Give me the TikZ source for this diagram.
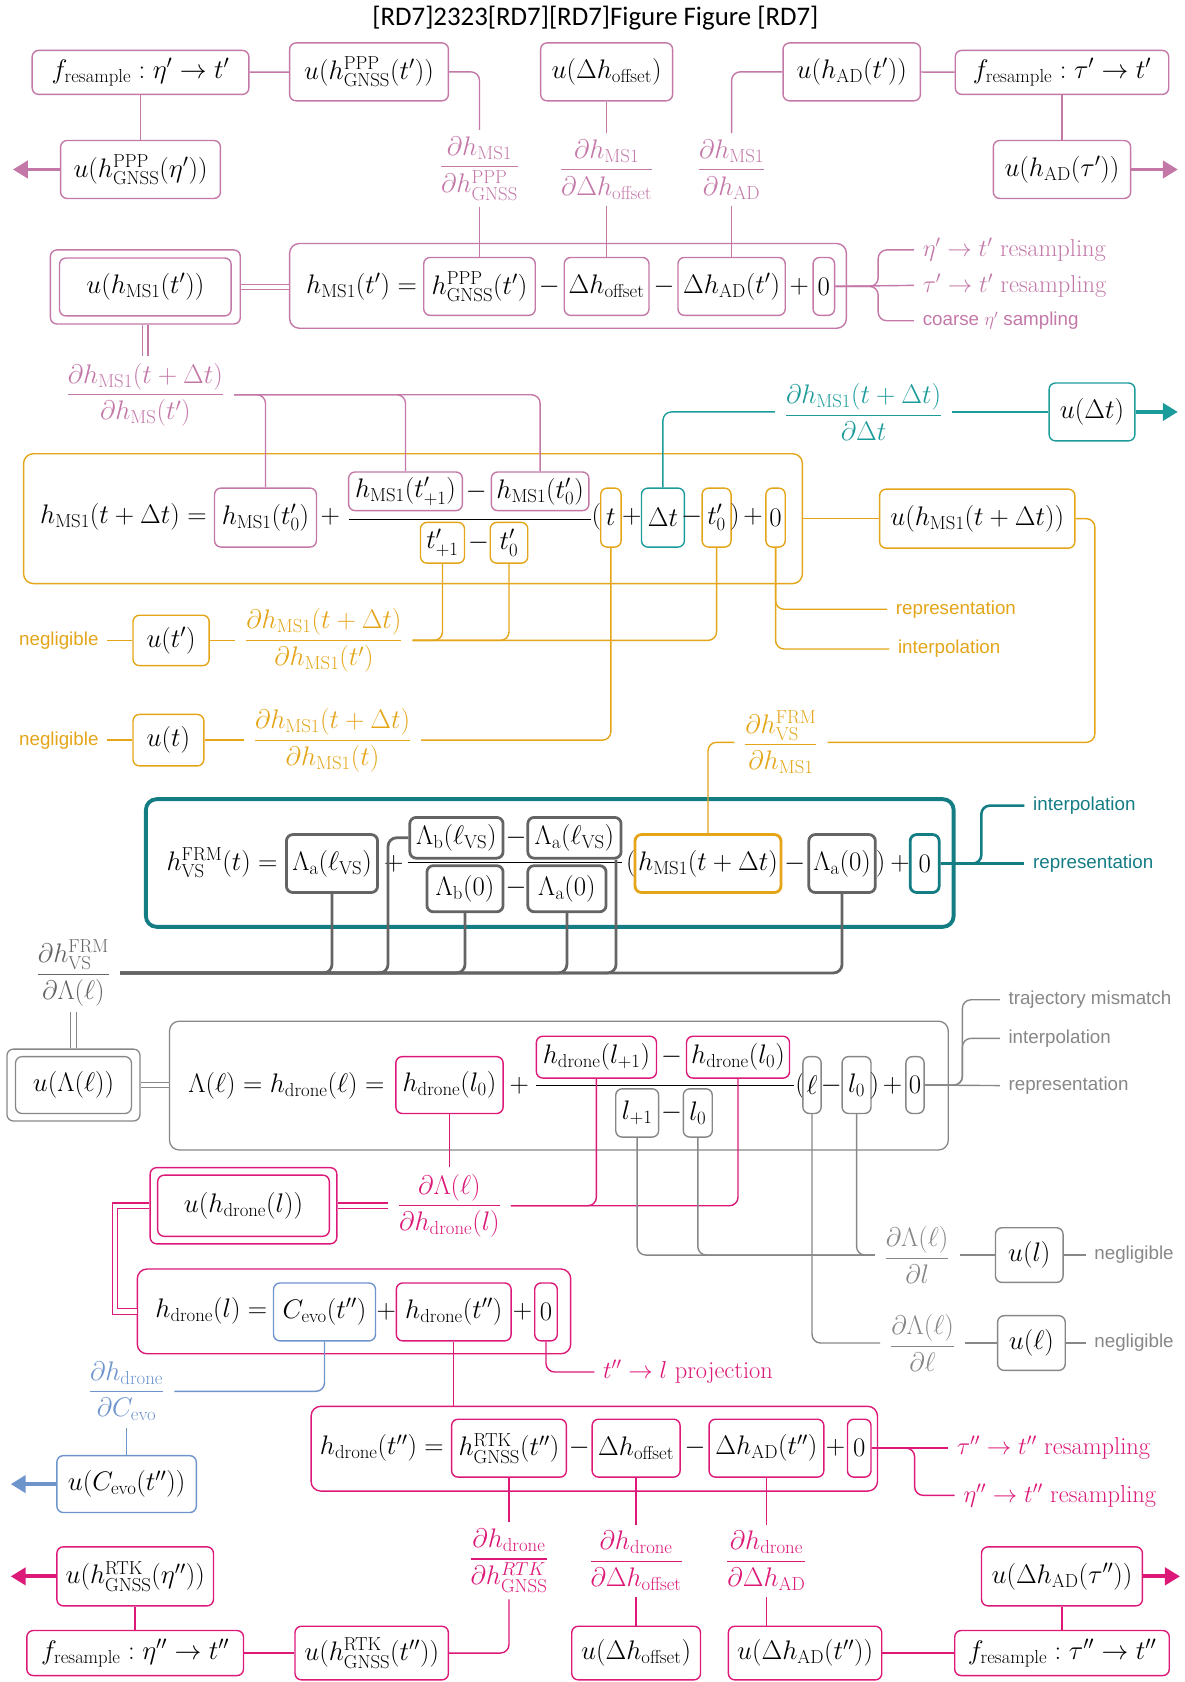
\RequirePackage{fix-cm}
\documentclass[tikz,border=0pt]{standalone}
\usepackage{amsmath}
\usepackage[no-math]{fontspec}
\usepackage{tikz}
\usetikzlibrary{arrows.meta}
\newfontfamily\notefont{Liberation Sans}
\newfontfamily\titlefont{Carlito}
\newcommand\mainsize{\fontsize{25}{30}\selectfont}
\newcommand\labsize{\fontsize{22.8}{27}\selectfont}
\newcommand\notesize{\fontsize{17.5}{21}\selectfont\notefont}
\definecolor{ms}{RGB}{195,120,168}
\definecolor{orng}{RGB}{228,165,25}
\definecolor{tl}{RGB}{20,125,132}
\definecolor{tq}{RGB}{28,155,155}
\definecolor{gy}{RGB}{100,100,100}
\definecolor{lg}{RGB}{135,135,135}
\definecolor{mg}{RGB}{220,25,120}
\definecolor{bl}{RGB}{110,148,204}
\begin{document}
\begin{tikzpicture}[x=1pt, y=-1pt,
  box/.style={draw, rounded corners=6pt, line width=1.3pt, inner sep=0pt, font=\mainsize},
  gbox/.style={box, draw=gy, line width=2.6pt},
  big/.style={draw, rounded corners=9pt, line width=1.3pt},
  op/.style={inner sep=0pt, font=\mainsize},
  frac/.style={inner xsep=9pt, inner ysep=6pt, font=\mainsize},
  lab/.style={anchor=west, inner xsep=8pt, inner ysep=0pt, font=\labsize},
  note/.style={anchor=west, inner xsep=8pt, inner ysep=0pt, font=\notesize},
  link/.style={line width=1.3pt, rounded corners=8pt},
  glink/.style={link, draw=gy, line width=2.6pt},
  dbl/.style={double, double distance=4pt, line width=1.1pt},
  outarrow/.style={line width=3.5pt, -{Triangle[length=14pt,width=16pt]}},
  sz/.style 2 args={minimum width=#1pt, minimum height=#2pt}]
\useasboundingbox (0,0) rectangle (1104,1568);
\node[font=\titlefont\fontsize{25}{30}\selectfont] (title) at (555,17) {[RD7]2323[RD7][RD7]Figure Figure [RD7]};

\node[box, draw=ms, sz={202}{41}] (f1) at (131,67.5) {$f_{\mathrm{resample}} : \eta' \rightarrow t'$};
\node[box, draw=ms, sz={148}{54}] (uPt) at (344,67) {$u(h^{\mathrm{PPP}}_{\mathrm{GNSS}}(t'))$};
\node[box, draw=ms, sz={123}{54}] (uoff) at (565.5,67) {$u(\Delta h_{\mathrm{offset}})$};
\node[box, draw=ms, sz={128}{54}] (uADt) at (794,67) {$u(h_{\mathrm{AD}}(t'))$};
\node[box, draw=ms, sz={199}{41}] (f2) at (990,67.5) {$f_{\mathrm{resample}} : \tau' \rightarrow t'$};
\node[box, draw=ms, sz={149}{54}] (uPeta) at (131,158) {$u(h^{\mathrm{PPP}}_{\mathrm{GNSS}}(\eta'))$};
\node[box, draw=ms, sz={128}{54}] (uADtau) at (990,158) {$u(h_{\mathrm{AD}}(\tau'))$};
\coordinate (eA) at (12,158);
\coordinate (eB) at (1098,158);
\node[frac, text=ms] (d1) at (447,157) {$\dfrac{\partial h_{\mathrm{MS1}}}{\partial h^{\mathrm{PPP}}_{\mathrm{GNSS}}}$};
\node[frac, text=ms] (d2) at (565.5,158) {$\dfrac{\partial h_{\mathrm{MS1}}}{\partial\Delta h_{\mathrm{offset}}}$};
\node[frac, text=ms] (d3) at (682,158) {$\dfrac{\partial h_{\mathrm{MS1}}}{\partial h_{\mathrm{AD}}}$};

\node[big, draw=ms, sz={519}{79}] (E1) at (529.5,266.5) {};
\node[op] (e1) at (337,267) {$h_{\mathrm{MS1}}(t') =$};
\node[box, draw=ms, sz={104}{54}] (hP) at (447,267) {$h^{\mathrm{PPP}}_{\mathrm{GNSS}}(t')$};
\node[op] (e1a) at (512,267) {$-$};
\node[box, draw=ms, sz={79}{54}] (hO) at (565.5,267) {$\Delta h_{\mathrm{offset}}$};
\node[op] (e1b) at (619,267) {$-$};
\node[box, draw=ms, sz={100}{54}] (hA) at (682,267) {$\Delta h_{\mathrm{AD}}(t')$};
\node[op] (e1c) at (745,267) {$+$};
\node[box, draw=ms, sz={20}{54}] (z1) at (768,267) {$0$};
\node[lab, text=ms] (r1) at (852,233) {$\eta' \rightarrow t'$ resampling};
\node[lab, text=ms] (r2) at (852,266) {$\tau' \rightarrow t'$ resampling};
\node[note, text=ms] (r3) at (852,299) {coarse $\eta'$ sampling};
\node[box, draw=ms, sz={177}{69}] (uMo) at (135.5,267.5) {};
\node[box, draw=ms, sz={160}{54}] (uM) at (135.5,267.5) {$u(h_{\mathrm{MS1}}(t'))$};

\draw[link, draw=ms] (f1) -- (uPt);
\draw[link, draw=ms] (f1) -- (uPeta);
\draw[outarrow, draw=ms] (uPeta) -- (eA);
\draw[link, draw=ms] (uADt) -- (f2);
\draw[link, draw=ms] (f2) -- (uADtau);
\draw[outarrow, draw=ms] (uADtau) -- (eB);
\draw[link, draw=ms] (uPt.east) -| (d1.north);
\draw[link, draw=ms] (d1) -- (hP);
\draw[link, draw=ms] (uoff) -- (d2);
\draw[link, draw=ms] (d2) -- (hO);
\draw[link, draw=ms] (uADt.west) -| (d3.north);
\draw[link, draw=ms] (d3) -- (hA);
\draw[dbl, draw=ms] (uMo.east) -- (uMo.east -| E1.west);
\draw[link, draw=ms] (z1.east) -- (r2.west);
\draw[link, draw=ms] (z1.east) -- ++(40,0) |- (r1.west);
\draw[link, draw=ms] (z1.east) -- ++(40,0) |- (r3.west);

\node[frac, text=ms] (d4) at (135.5,368) {$\dfrac{\partial h_{\mathrm{MS1}}(t+\Delta t)}{\partial h_{\mathrm{MS}}(t')}$};
\node[big, draw=orng, sz={726}{121}] (E2) at (385,483.5) {};
\node[op] (e2) at (115,482) {$h_{\mathrm{MS1}}(t+\Delta t) =$};
\node[box, draw=ms, sz={95}{55}] (a1) at (247.5,482.5) {$h_{\mathrm{MS1}}(t'_0)$};
\node[op] (e2a) at (308,482) {$+$};
\node[box, draw=ms, sz={106}{36}] (nA) at (378,458) {$h_{\mathrm{MS1}}(t'_{+1})$};
\node[op] (e2b) at (444,458) {$-$};
\node[box, draw=ms, sz={91}{36}] (nB) at (503.5,458) {$h_{\mathrm{MS1}}(t'_0)$};
\draw[line width=1.2pt] (325,484) -- (551,484);
\node[box, draw=orng, sz={41}{38}] (dA) at (412.5,506) {$t'_{+1}$};
\node[op] (e2c) at (446,506) {$-$};
\node[box, draw=orng, sz={35}{38}] (dB) at (474.5,506) {$t'_0$};
\node[op] (e2d) at (556,482) {$($};
\node[box, draw=orng, sz={19}{55}] (bt) at (569.5,482.5) {$t$};
\node[op] (e2e) at (589,482) {$+$};
\node[box, draw=tq, sz={40}{55}] (bD) at (618,482.5) {$\Delta t$};
\node[op] (e2f) at (645,482) {$-$};
\node[box, draw=orng, sz={27}{55}] (b0) at (668,482.5) {$t'_0$};
\node[op] (e2g) at (685,482) {$)$};
\node[op] (e2h) at (702,482) {$+$};
\node[box, draw=orng, sz={18}{55}] (bz) at (723,482.5) {$0$};
\node[frac, text=tq] (d5) at (805,384) {$\dfrac{\partial h_{\mathrm{MS1}}(t+\Delta t)}{\partial\Delta t}$};
\node[box, draw=tq, sz={80}{54}] (uDt) at (1018,384) {$u(\Delta t)$};
\coordinate (eC) at (1098,384);
\node[box, draw=orng, sz={182}{55}] (uH) at (911,483.5) {$u(h_{\mathrm{MS1}}(t+\Delta t))$};
\node[frac, text=orng] (d6) at (728,692) {$\dfrac{\partial h^{\mathrm{FRM}}_{\mathrm{VS}}}{\partial h_{\mathrm{MS1}}}$};
\node[frac, text=orng] (d7) at (302,597) {$\dfrac{\partial h_{\mathrm{MS1}}(t+\Delta t)}{\partial h_{\mathrm{MS1}}(t')}$};
\node[box, draw=orng, sz={71}{47}] (ut1) at (159.5,597) {$u(t')$};
\node[note, anchor=east, text=orng] (n1) at (100,597) {negligible};
\node[frac, text=orng] (d8) at (310,690) {$\dfrac{\partial h_{\mathrm{MS1}}(t+\Delta t)}{\partial h_{\mathrm{MS1}}(t)}$};
\node[box, draw=orng, sz={66}{48}] (ut) at (157,690) {$u(t)$};
\node[note, anchor=east, text=orng] (n2) at (100,690) {negligible};
\node[note, text=orng] (rp1) at (827,568) {representation};
\node[note, text=orng] (ip1) at (829,605) {interpolation};

\draw[dbl, draw=ms] (uMo) -- (d4);
\draw[link, draw=ms] (d4.east) -| (a1.north);
\draw[link, draw=ms] (d4.east) -| (nA.north);
\draw[link, draw=ms] (d4.east) -| (nB.north);
\draw[link, draw=tq] (bD.north) |- (d5.west);
\draw[link, draw=tq] (d5) -- (uDt);
\draw[outarrow, draw=tq] (uDt) -- (eC);
\draw[link, draw=orng] (E2) -- (uH);
\draw[link, draw=orng] (uH.east) -- ++(18,0) |- (d6.east);
\draw[link, draw=orng] (dA.south) |- (d7.east);
\draw[link, draw=orng] (dB.south) |- (d7.east);
\draw[link, draw=orng] (b0.south) |- (d7.east);
\draw[link, draw=orng] (n1) -- (ut1);
\draw[link, draw=orng] (ut1) -- (d7);
\draw[link, draw=orng] (bt.south) |- (d8.east);
\draw[link, draw=orng] (n2) -- (ut);
\draw[link, draw=orng] (ut) -- (d8);
\draw[link, draw=orng] (bz.south) |- (rp1.west);
\draw[link, draw=orng] (bz.south) |- (ip1.west);

\node[big, draw=tl, line width=3.6pt, rounded corners=10pt, sz={753}{119}] (E3) at (512.5,804.5) {};
\node[op] (e3) at (207,804) {$h^{\mathrm{FRM}}_{\mathrm{VS}}(t) =$};
\node[gbox, sz={85}{54}] (g1) at (309.5,805) {$\Lambda_{\mathrm{a}}(\ell_{\mathrm{VS}})$};
\node[op] (e3a) at (367,805) {$+$};
\node[gbox, sz={87}{38}] (nC) at (425.5,781) {$\Lambda_{\mathrm{b}}(\ell_{\mathrm{VS}})$};
\node[op] (e3b) at (481,781) {$-$};
\node[gbox, sz={87}{38}] (nD) at (535.5,781) {$\Lambda_{\mathrm{a}}(\ell_{\mathrm{VS}})$};
\draw[line width=1.2pt] (380,804) -- (580,804);
\node[gbox, sz={71}{43}] (dC) at (433.5,828.5) {$\Lambda_{\mathrm{b}}(0)$};
\node[op] (e3c) at (481,828) {$-$};
\node[gbox, sz={73}{43}] (dD) at (528.5,828.5) {$\Lambda_{\mathrm{a}}(0)$};
\node[op] (e3d) at (588,805) {$($};
\node[box, draw=orng, line width=2.6pt, sz={136}{54}] (hT) at (660,805) {$h_{\mathrm{MS1}}(t+\Delta t)$};
\node[op] (e3e) at (741,805) {$-$};
\node[gbox, sz={62}{54}] (g2) at (785,805) {$\Lambda_{\mathrm{a}}(0)$};
\node[op] (e3f) at (821,805) {$)$};
\node[op] (e3g) at (839,805) {$+$};
\node[box, draw=tl, line width=2.6pt, sz={27}{54}] (z3) at (862,805) {$0$};
\node[note, text=tl] (ip2) at (955,751) {interpolation};
\node[note, text=tl] (rp2) at (955,805) {representation};
\node[frac, text=gy] (d9) at (68.5,907) {$\dfrac{\partial h^{\mathrm{FRM}}_{\mathrm{VS}}}{\partial\Lambda(\ell)}$};

\draw[link, draw=orng] (d6.west) -| (hT.north);
\draw[link, draw=tl, line width=2.4pt] (z3.east) -- (rp2.west);
\draw[link, draw=tl, line width=2.4pt] (z3.east) -- ++(38,0) |- (ip2.west);
\draw[glink] (d9.east) -| (g1.south);
\draw[glink] (nC.west) -- ++(-19,0) |- (d9.east);
\draw[glink] (d9.east) -| (dC.south);
\draw[glink] (d9.east) -| (dD.south);
\draw[glink] (d9.east) -| ([xshift=-6pt]nD.south east);
\draw[glink] (d9.east) -| (g2.south);

\node[box, draw=lg, line width=1.2pt, sz={124}{67}] (uLo) at (68.5,1011.5) {};
\node[box, draw=lg, line width=1.2pt, sz={108}{53}] (uL) at (68.5,1011.5) {$u(\Lambda(\ell))$};
\node[big, draw=lg, line width=1.2pt, sz={726}{120}] (E4) at (521,1012) {};
\node[op] (e4) at (267,1012) {$\Lambda(\ell) = h_{\mathrm{drone}}(\ell) =$};
\node[box, draw=mg, sz={100}{53}] (q1) at (419,1011.5) {$h_{\mathrm{drone}}(l_0)$};
\node[op] (e4a) at (484,1012) {$+$};
\node[box, draw=mg, sz={112}{39}] (nE) at (556,985.5) {$h_{\mathrm{drone}}(l_{+1})$};
\node[op] (e4b) at (626,985.5) {$-$};
\node[box, draw=mg, sz={96}{39}] (nF) at (688,985.5) {$h_{\mathrm{drone}}(l_0)$};
\draw[line width=1.2pt] (500,1012) -- (740,1012);
\node[box, draw=lg, sz={40}{45}] (dE) at (594,1037.5) {$l_{+1}$};
\node[op] (e4c) at (626,1037.5) {$-$};
\node[box, draw=lg, sz={27}{45}] (dF) at (650.5,1037.5) {$l_0$};
\node[op] (e4d) at (746,1012) {$($};
\node[box, draw=lg, sz={17}{53}] (q2) at (757,1011.5) {$\ell$};
\node[op] (e4e) at (775,1012) {$-$};
\node[box, draw=lg, sz={27}{53}] (q3) at (798.5,1011.5) {$l_0$};
\node[op] (e4f) at (815,1012) {$)$};
\node[op] (e4g) at (832,1012) {$+$};
\node[box, draw=lg, sz={17}{53}] (z4) at (853,1011.5) {$0$};
\node[note, text=lg] (tm) at (932,932) {trajectory mismatch};
\node[note, text=lg] (ip3) at (932,968) {interpolation};
\node[note, text=lg] (rp3) at (932,1012) {representation};
\node[frac, text=mg] (d10) at (419,1124) {$\dfrac{\partial\Lambda(\ell)}{\partial h_{\mathrm{drone}}(l)}$};
\node[box, draw=mg, sz={174}{71}] (uHo) at (227,1124) {};
\node[box, draw=mg, sz={160}{57}] (uHd) at (227,1124) {$u(h_{\mathrm{drone}}(l))$};
\node[frac, text=lg] (d15) at (855,1170) {$\dfrac{\partial\Lambda(\ell)}{\partial l}$};
\node[box, draw=lg, sz={63}{51}] (ul) at (959.5,1170) {$u(l)$};
\node[note, text=lg] (n3) at (1012,1170) {negligible};
\node[frac, text=lg] (d16) at (860,1252) {$\dfrac{\partial\Lambda(\ell)}{\partial\ell}$};
\node[box, draw=lg, sz={63}{51}] (ue) at (961.5,1252) {$u(\ell)$};
\node[note, text=lg] (n4) at (1012,1252) {negligible};

\draw[dbl, draw=lg] (d9) -- (uLo);
\draw[dbl, draw=lg] (uLo.east) -- (uLo.east -| E4.west);
\draw[link, draw=lg] (z4.east) -- (rp3.west);
\draw[link, draw=lg] (z4.east) -- ++(35,0) |- (ip3.west);
\draw[link, draw=lg] (z4.east) -- ++(35,0) |- (tm.west);
\draw[link, draw=mg] (q1) -- (d10);
\draw[link, draw=mg] (d10.east) -| (nE.south);
\draw[link, draw=mg] (d10.east) -| (nF.south);
\draw[dbl, draw=mg] (d10.west) -- (uHo.east);
\draw[link, draw=lg] (dE.south) |- (d15.west);
\draw[link, draw=lg] (dF.south) |- (d15.west);
\draw[link, draw=lg] (q3.south) |- (d15.west);
\draw[link, draw=lg] (d15) -- (ul);
\draw[link, draw=lg] (ul) -- (n3.west);
\draw[link, draw=lg] (q2.south) |- (d16.west);
\draw[link, draw=lg] (d16) -- (ue);
\draw[link, draw=lg] (ue) -- (n4.west);

\node[big, draw=mg, sz={404}{79}] (E5) at (330,1222.5) {};
\node[op] (e5) at (197,1222) {$h_{\mathrm{drone}}(l) =$};
\node[box, draw=bl, sz={95}{54}] (c1) at (302.5,1223) {$C_{\mathrm{evo}}(t'')$};
\node[op] (e5a) at (360,1223) {$+$};
\node[box, draw=mg, sz={107}{54}] (hd) at (423,1223) {$h_{\mathrm{drone}}(t'')$};
\node[op] (e5b) at (487,1223) {$+$};
\node[box, draw=mg, sz={21}{54}] (z5) at (509,1223) {$0$};
\node[lab, text=mg] (pj) at (554,1279) {$t'' \rightarrow l$ projection};
\node[frac, text=bl] (d11) at (118,1297) {$\dfrac{\partial h_{\mathrm{drone}}}{\partial C_{\mathrm{evo}}}$};
\node[box, draw=bl, sz={130}{53}] (uC) at (118,1383.5) {$u(C_{\mathrm{evo}}(t''))$};
\coordinate (eD) at (10,1383.5);

\node[big, draw=mg, sz={528}{79}] (E6) at (554,1350.5) {};
\node[op] (e6) at (356,1350) {$h_{\mathrm{drone}}(t'') =$};
\node[box, draw=mg, sz={107}{54}] (s1) at (474.5,1350) {$h^{\mathrm{RTK}}_{\mathrm{GNSS}}(t'')$};
\node[op] (e6a) at (540,1350) {$-$};
\node[box, draw=mg, sz={82}{54}] (s2) at (593,1350) {$\Delta h_{\mathrm{offset}}$};
\node[op] (e6b) at (648,1350) {$-$};
\node[box, draw=mg, sz={107}{54}] (s3) at (714.5,1350) {$\Delta h_{\mathrm{AD}}(t'')$};
\node[op] (e6c) at (779,1350) {$+$};
\node[box, draw=mg, sz={22}{54}] (z6) at (801,1350) {$0$};
\node[lab, text=mg] (w1) at (884,1350) {$\tau'' \rightarrow t''$ resampling};
\node[lab, text=mg] (w2) at (890,1394) {$\eta'' \rightarrow t''$ resampling};
\node[frac, text=mg] (d12) at (474.5,1455) {$\dfrac{\partial h_{\mathrm{drone}}}{\partial h^{RTK}_{\mathrm{GNSS}}}$};
\node[frac, text=mg] (d13) at (593,1455) {$\dfrac{\partial h_{\mathrm{drone}}}{\partial\Delta h_{\mathrm{offset}}}$};
\node[frac, text=mg] (d14) at (714.5,1455) {$\dfrac{\partial h_{\mathrm{drone}}}{\partial\Delta h_{\mathrm{AD}}}$};
\node[box, draw=mg, sz={146}{55}] (uRe) at (126,1469.5) {$u(h^{\mathrm{RTK}}_{\mathrm{GNSS}}(\eta''))$};
\coordinate (eE) at (10,1469.5);
\node[box, draw=mg, sz={202}{42}] (f3) at (126,1541) {$f_{\mathrm{resample}} : \eta'' \rightarrow t''$};
\node[box, draw=mg, sz={143}{50}] (uRt) at (346.5,1541) {$u(h^{\mathrm{RTK}}_{\mathrm{GNSS}}(t''))$};
\node[box, draw=mg, sz={120}{50}] (uO2) at (593,1541) {$u(\Delta h_{\mathrm{offset}})$};
\node[box, draw=mg, sz={143}{50}] (uA2) at (750.5,1541) {$u(\Delta h_{\mathrm{AD}}(t''))$};
\node[box, draw=mg, sz={200}{42}] (f4) at (990,1541) {$f_{\mathrm{resample}} : \tau'' \rightarrow t''$};
\node[box, draw=mg, sz={150}{55}] (uAtau) at (990,1469.5) {$u(\Delta h_{\mathrm{AD}}(\tau''))$};
\coordinate (eF) at (1100,1469.5);

\draw[dbl, draw=mg] (uHo.west) -- ++(-32,0) |- (E5.west);
\draw[link, draw=mg] (z5.south) |- (pj.west);
\draw[link, draw=bl] (c1.south) |- (d11.east);
\draw[link, draw=bl] (d11) -- (uC);
\draw[outarrow, draw=bl] (uC) -- (eD);
\draw[link, draw=mg] (hd) -- (hd |- E6.north);
\draw[link, draw=mg] (z6.east) -- (w1.west);
\draw[link, draw=mg] (z6.east) -- ++(40,0) |- (w2.west);
\draw[link, draw=mg] (s1) -- (d12);
\draw[link, draw=mg] (s2) -- (d13);
\draw[link, draw=mg] (s3) -- (d14);
\draw[link, draw=mg] (d12.south) |- (uRt.east);
\draw[link, draw=mg] (d13) -- (uO2);
\draw[link, draw=mg] (d14.south) -- (d14.south |- uA2.north);
\draw[link, draw=mg] (uRe) -- (f3);
\draw[outarrow, draw=mg] (uRe) -- (eE);
\draw[link, draw=mg] (f3) -- (uRt);
\draw[link, draw=mg] (uA2) -- (f4);
\draw[link, draw=mg] (uAtau) -- (f4);
\draw[outarrow, draw=mg] (uAtau) -- (eF);
\end{tikzpicture}
\end{document}
